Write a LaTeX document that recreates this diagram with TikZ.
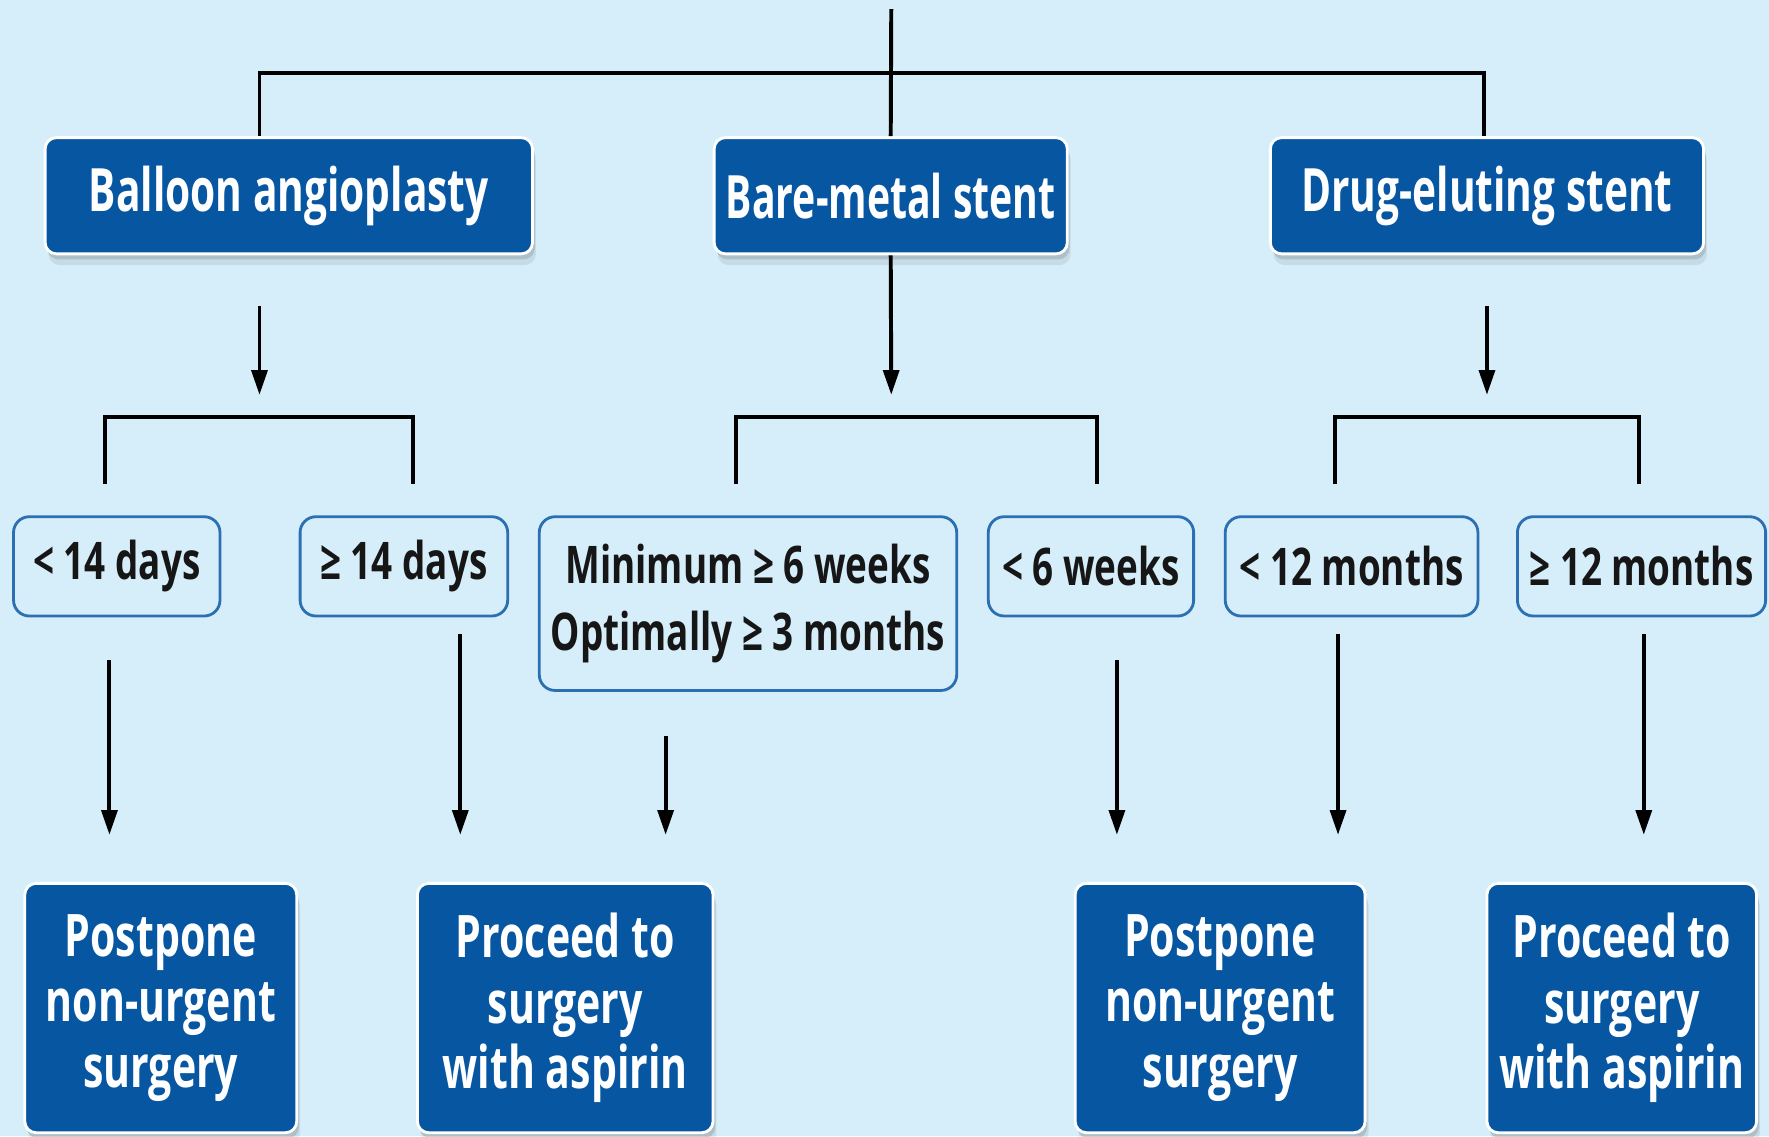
\documentclass[tikz,border=0pt]{standalone}
\usepackage{fontspec}
\setmainfont{Open Sans}
\newfontfamily\topfont{Open Sans}[FakeStretch=0.68]
\newfontfamily\narrowfont{Open Sans}[FakeStretch=0.655]
\newfontfamily\botfont{Open Sans}[FakeStretch=0.70]
\newfontfamily\midfont{Open Sans}[FakeStretch=0.71]
\usetikzlibrary{arrows.meta,shadows,calc}
\definecolor{bg}{RGB}{214,238,249}
\definecolor{dkblue}{RGB}{6,86,162}
\definecolor{edgeblue}{RGB}{44,112,180}
\definecolor{txt}{RGB}{22,22,22}
\begin{document}
\begin{tikzpicture}[x=1pt,y=-1pt,
  dark/.style={fill=dkblue, draw=white, line width=2.5, rounded corners=10,
    text=white, align=center, inner sep=0,
    font=\topfont\bfseries\fontsize{53}{58}\selectfont,
    drop shadow={shadow xshift=3, shadow yshift=10, fill=black, opacity=0.08},
    drop shadow={shadow xshift=2, shadow yshift=5, fill=black, opacity=0.12}},
  botbox/.style={dark, font=\botfont\bfseries\fontsize{52}{58}\selectfont},
  light/.style={fill=bg, draw=edgeblue, line width=2.5, rounded corners=14,
    text=txt, align=center, inner sep=0,
    font=\midfont\bfseries\fontsize{46}{60}\selectfont},
  line/.style={line width=3.5, black},
  arr/.style={line, -{Triangle[length=22, width=14]}}]
\useasboundingbox (0,0) rectangle (1568,1007);
\fill[bg] (0,0) rectangle (1568,1007);
\begin{scope}
\clip (0,0) rectangle (1568,1007);
% top row
\node[dark, minimum width=432, minimum height=103] (ba) at (256,173.5) {Balloon angioplasty};
\node[dark, minimum width=313, minimum height=103, font=\narrowfont\bfseries\fontsize{53}{58}\selectfont] (bm) at (789.5,173.5) {Bare-metal stent};
\node[dark, minimum width=384, minimum height=103] (de) at (1318,173.5) {Drug-eluting stent};
% middle row
\node[light, minimum width=183, minimum height=88] (d1) at (103.5,502) {< 14 days};
\node[light, minimum width=184, minimum height=88] (d2) at (358,502) {≥ 14 days};
\node[light, minimum width=370, minimum height=154] (d3) at (663,535) {Minimum ≥ 6 weeks\\Optimally ≥ 3 months};
\node[light, minimum width=182, minimum height=88] (d4) at (967,502) {< 6 weeks};
\node[light, minimum width=224, minimum height=88] (d5) at (1198,502) {< 12 months};
\node[light, minimum width=220, minimum height=88] (d6) at (1455,502) {≥ 12 months};
% bottom row
\node[botbox, minimum width=241, minimum height=221] (p1) at (142.5,893.5) {Postpone\\non-urgent\\surgery};
\node[botbox, minimum width=262, minimum height=221] (p2) at (501,893.5) {Proceed to\\surgery\\with aspirin};
\node[botbox, minimum width=257, minimum height=221] (p3) at (1081.5,893.5) {Postpone\\non-urgent\\surgery};
\node[botbox, minimum width=239, minimum height=221] (p4) at (1437.5,893.5) {Proceed to\\surgery\\with aspirin};
% top connectors
\coordinate (top) at (790,8);
\coordinate (hub) at (790,65);
\draw[line] (top) -- (bm.north);
\draw[line] ([xshift=-26]ba.north) |- (hub) -| ([xshift=-3]de.north);
% bracket junctions
\coordinate (b1) at (230,370);
\coordinate (b2) at (790,370);
\coordinate (b3) at (1318,370);
\draw[arr] ([xshift=-26,yshift=-45]ba.south) -- ([yshift=20]b1);
\draw[arr] (bm.south) -- ([yshift=20]b2);
\draw[arr] ([yshift=-45]de.south) -- ([yshift=20]b3);
\draw[line] ([xshift=-10.5,yshift=28]d1.north) |- (b1) -| ([xshift=8,yshift=28]d2.north);
\draw[line] ([xshift=-11,yshift=28]d3.north) |- (b2) -| ([xshift=5,yshift=28]d4.north);
\draw[line] ([xshift=-15,yshift=28]d5.north) |- (b3) -| ([xshift=-2,yshift=28]d6.north);
% lower arrows
\coordinate (e1) at (97,740);
\coordinate (e2) at (408,740);
\coordinate (e3) at (590,740);
\coordinate (e4) at (990,740);
\coordinate (e5) at (1186,740);
\coordinate (e6) at (1457,740);
\draw[arr] ($(d1.south -| e1)+(0,38)$) -- (e1);
\draw[arr] ($(d2.south -| e2)+(0,15)$) -- (e2);
\draw[arr] ($(d3.south -| e3)+(0,39)$) -- (e3);
\draw[arr] ($(d4.south -| e4)+(0,38)$) -- (e4);
\draw[arr] ($(d5.south -| e5)+(0,15)$) -- (e5);
\draw[arr] ($(d6.south -| e6)+(0,15)$) -- (e6);
\end{scope}
\end{tikzpicture}
\end{document}
